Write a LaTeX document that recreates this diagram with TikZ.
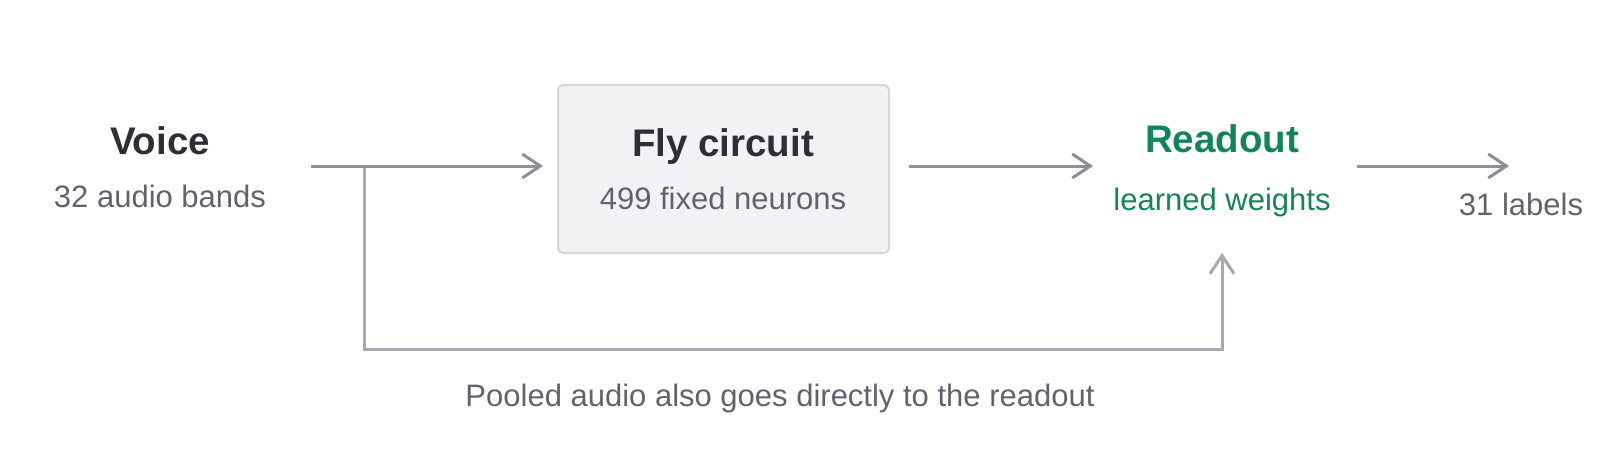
\documentclass[tikz,border=0pt]{standalone}
\usepackage{fontspec}
\setmainfont{Liberation Sans}
\usetikzlibrary{arrows.meta}
\definecolor{darktxt}{HTML}{2E2E36}
\definecolor{graytxt}{HTML}{62626E}
\definecolor{greentxt}{HTML}{11855A}
\definecolor{arrowgray}{HTML}{8F8F9A}
\definecolor{bypassgray}{HTML}{A8A8B2}
\definecolor{boxfill}{HTML}{F2F2F4}
\definecolor{boxline}{HTML}{D6D6DA}
\tikzset{
  title/.style={inner sep=0pt, anchor=base, font=\fontsize{38.5}{46}\selectfont\bfseries, text=darktxt},
  sub/.style={inner sep=0pt, anchor=base, font=\fontsize{31}{37}\selectfont, text=graytxt},
  flow/.style={draw=arrowgray, line width=3pt, -{Straight Barb[length=18pt,width=24pt,line width=3pt]}},
  bypassarrow/.style={draw=bypassgray, line width=3pt, -{Straight Barb[length=18pt,width=24pt,line width=3pt]}},
  circuitbox/.style={draw=boxline, fill=boxfill, line width=2pt, rounded corners=5pt}
}
\begin{document}
\begin{tikzpicture}[x=1pt,y=-1pt]
\useasboundingbox (0,0) rectangle (1600,467);
% box
\draw[circuitbox] (558,85) rectangle (889,253);
% texts
\node[title] (voice) at (160,154) {Voice};
\node[sub] (bands) at (160,207) {32 audio bands};
\node[title] (fly) at (723,156) {Fly circuit};
\node[sub] (neurons) at (723,209) {499 fixed neurons};
\node[title, text=greentxt] (readout) at (1222,152) {Readout};
\node[sub, text=greentxt] (weights) at (1222,210) {learned weights};
\node[sub] (labels) at (1521,215) {31 labels};
\node[sub] (note) at (780,406) {Pooled audio also goes directly to the readout};
% connector anchor points
\coordinate (a1s) at (311,166);
\coordinate (a1e) at (543,166);
\coordinate (split) at (364,166);
\coordinate (c1) at (364,349);
\coordinate (c2) at (1222,349);
\coordinate (b1e) at (1222,253);
\coordinate (a2s) at (909,166);
\coordinate (a2e) at (1093,166);
\coordinate (a3s) at (1357,166);
\coordinate (a3e) at (1509,166);
% connectors
\draw[bypassarrow] (split) -- (c1) -- (c2) -- (b1e);
\draw[flow] (a1s) -- (a1e);
\draw[flow] (a2s) -- (a2e);
\draw[flow] (a3s) -- (a3e);
\end{tikzpicture}
\end{document}
